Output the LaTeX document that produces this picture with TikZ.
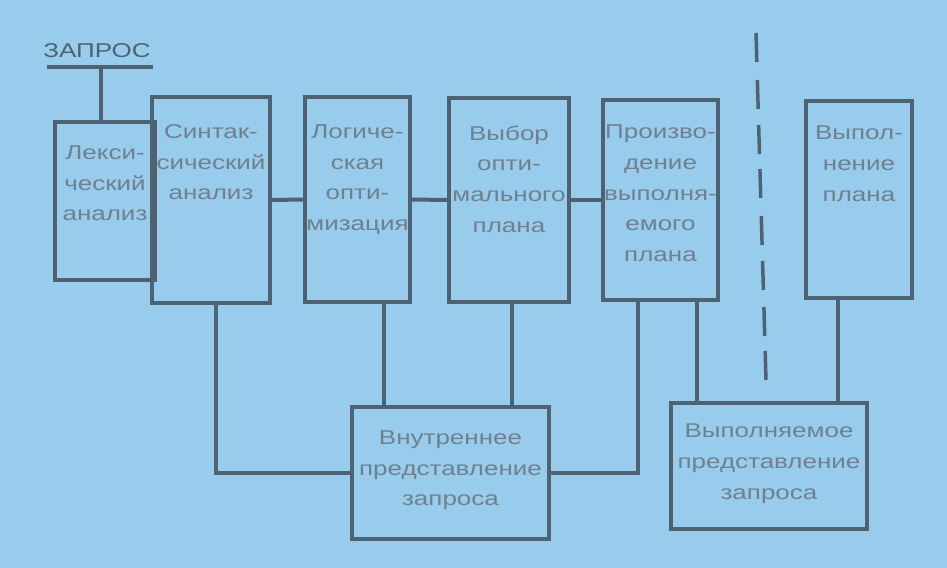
\documentclass[tikz,border=0pt]{standalone}
\usepackage{fontspec}
\setmainfont[FakeStretch=1.3]{Liberation Sans}
\usepackage{xcolor}
\usetikzlibrary{positioning,calc}

\definecolor{slide}{RGB}{152,204,236}
\definecolor{ink}{RGB}{78,98,114}
\definecolor{txtgrey}{RGB}{112,128,142}

\tikzset{
  box/.style={rectangle, draw=ink, line width=3pt, inner sep=0pt},
  lbl/.style={text=txtgrey, align=center, inner sep=0pt, font=\fontsize{15}{23}\selectfont},
  wire/.style={draw=ink, line width=3pt},
  cutline/.style={draw=ink, line width=2.6pt, line cap=butt}
}

\begin{document}
\begin{tikzpicture}[x=0.75pt,y=-0.75pt]
\fill[slide] (0,0) rectangle (947,568);
\useasboundingbox (0,0) rectangle (947,568);

% query input
\node (zapros) [lbl, text=ink, font=\fontsize{15}{18}\selectfont] at (97,51) {ЗАПРОС};
\coordinate (zl) at (47,67);
\coordinate (zr) at (153,67);
\coordinate (zm) at (101,67);

% processing stages
\node (lex) [box, minimum width=75pt, minimum height=118.5pt] at (105,201) {};
\node (syn) [box, minimum width=88.5pt, minimum height=154.5pt] at (211,200) {};
\node (logopt) [box, minimum width=78.75pt, minimum height=153.75pt] at (357.5,199.5) {};
\node (choice) [box, minimum width=90pt, minimum height=153pt] at (509,200) {};
\node (prod) [box, minimum width=86.25pt, minimum height=150pt] at (660.5,200) {};
\node (exec) [box, minimum width=79.5pt, minimum height=147.75pt] at (859,199.5) {};

% representations
\node (intrep) [box, minimum width=147.75pt, minimum height=99pt] at (450.5,473) {};
\node (execrep) [box, minimum width=147pt, minimum height=94.5pt] at (769,466) {};

% texts
\node (lexT) [lbl, below=19pt of lex.north] {Лекси-\\ческий\\анализ};
\node (synT) [lbl, below=22pt of syn.north] {Синтак-\\сический\\анализ};
\node (logoptT) [lbl, below=22pt of logopt.north] {Логиче-\\ская\\опти-\\мизация};
\node (choiceT) [lbl, below=22pt of choice.north] {Выбор\\опти-\\мального\\плана};
\node (prodT) [lbl, below=20pt of prod.north] {Произво-\\дение\\выполня-\\емого\\плана};
\node (execT) [lbl, below=20pt of exec.north] {Выпол-\\нение\\плана};
\node (intrepT) [lbl, below=19pt of intrep.north] {Внутреннее\\представление\\запроса};
\node (execrepT) [lbl, below=17pt of execrep.north] {Выполняемое\\представление\\запроса};

% connectors
\draw[wire] (zl) -- (zr);
\draw[wire] (zm) -- (zm |- lex.north);
\draw[wire] (syn.east) -- (logopt.west);
\draw[wire] (logopt.east) -- (choice.west);
\draw[wire] (choice.east) -- (prod.west);
\draw[wire] ($(syn.south)+(5,0)$) |- (intrep.west);
\draw[wire] ($(logopt.south)+(26,0)$) coordinate (lo) -- (lo |- intrep.north);
\draw[wire] ($(choice.south)+(3,0)$) coordinate (co) -- (co |- intrep.north);
\draw[wire] ($(prod.south)+(-23,0)$) |- (intrep.east);
\draw[wire] ($(prod.south)+(36,0)$) coordinate (po) -- (po |- execrep.north);
\draw[wire] ($(exec.south)+(-21,0)$) coordinate (eo) -- (eo |- execrep.north);

% boundary between compile and run time
\coordinate (cutTop) at (756,33);
\coordinate (cutBot) at (766,380);
\foreach \y in {33,80,125,169,216,261,307,351}
  \draw[cutline] ($(cutTop)!{(\y-33)/347}!(cutBot)$) -- ($(cutTop)!{(\y-4)/347}!(cutBot)$);
\end{tikzpicture}
\end{document}
